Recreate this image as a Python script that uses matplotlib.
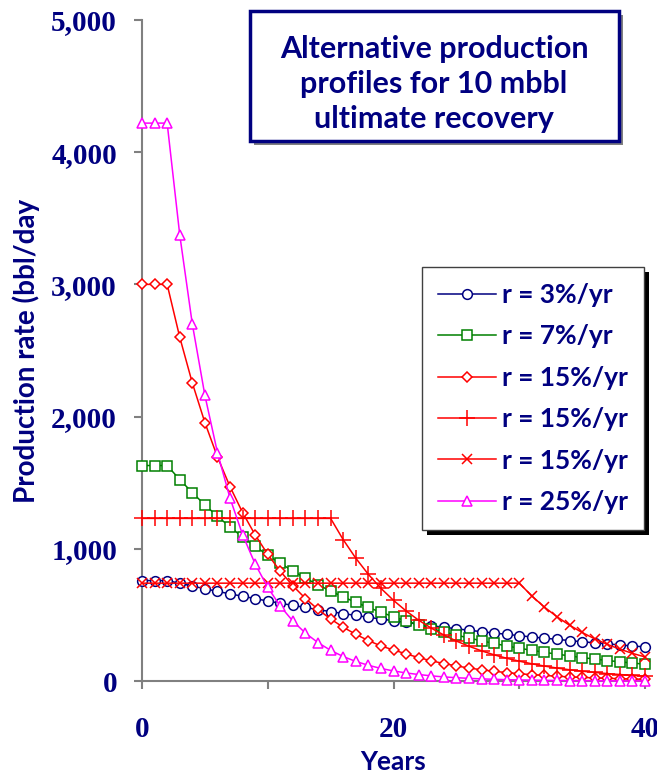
import matplotlib
matplotlib.use("Agg")
import matplotlib.pyplot as plt
from matplotlib.patches import Rectangle
from matplotlib.ticker import FuncFormatter, FixedLocator
import matplotlib.transforms as mtransforms

years = list(range(41))

r3 = [760, 760, 760, 739, 718, 698, 678, 659, 641, 623, 605, 588, 572, 556, 540, 525,
      510, 496, 482, 469, 456, 443, 430, 418, 407, 395, 384, 373, 363, 353, 343, 333,
      324, 315, 306, 297, 289, 281, 273, 265, 258]
r7 = [1630, 1630, 1630, 1524, 1425, 1332, 1246, 1165, 1089, 1018, 952, 890, 832, 778,
      728, 680, 636, 595, 556, 520, 486, 455, 425, 397, 372, 347, 325, 304, 284, 265,
      248, 232, 217, 203, 190, 177, 166, 155, 145, 136, 127]
r15_early = [3000, 3000, 3000, 2601, 2255, 1955, 1695, 1470, 1274, 1105, 958, 830, 720,
             624, 541, 469, 407, 353, 306, 265, 235, 205, 177, 153, 132, 114, 98, 85,
             73, 64, 55, 48, 42, 36, 31, 27, 24, 20, 18, 15, 13]
r15_mid = [1230, 1230, 1230, 1230, 1230, 1230, 1230, 1230, 1230, 1230, 1230, 1230, 1230,
           1230, 1230, 1230, 1069, 929, 807, 701, 610, 530, 460, 400, 348, 302, 263,
           228, 198, 172, 150, 130, 113, 98, 85, 74, 65, 56, 49, 42, 37]
r15_late = [740] * 31 + [643, 559, 486, 422, 367, 319, 277, 241, 209, 182]
r25 = [4220, 4220, 4220, 3376, 2701, 2161, 1728, 1383, 1106, 885, 708, 566, 453, 362,
       290, 232, 185, 148, 119, 95, 76, 61, 49, 39, 31, 25, 20, 16, 13, 10, 8, 7, 5, 4,
       3, 3, 2, 2, 1, 1, 1]

labels = ["r = 3%/yr", "r = 7%/yr", "r = 15%/yr", "r = 15%/yr", "r = 15%/yr", "r = 25%/yr"]

navy = "#000080"
sans = ["Lato", "DejaVu Sans"]
serif = ["Liberation Serif", "DejaVu Serif"]

fig = plt.figure(figsize=(6.57, 7.77), dpi=100)
ax = fig.add_axes([142 / 657, 1 - 681 / 777, 503 / 657, 661 / 777])

series = [
    (r3, navy, "o", 7),
    (r7, "#008000", "s", 7.5),
    (r15_early, "#FF0000", "D", 5.5),
    (r15_mid, "#FF0000", "+", 12),
    (r15_late, "#FF0000", "x", 7),
    (r25, "#FF00FF", "^", 7),
]
for (vals, col, mk, ms), lab in zip(series, labels):
    ax.plot(years, vals, color=col, lw=1.1, marker=mk, ms=ms, mfc="white", mec=col,
            mew=1.1, label=lab, clip_on=False, zorder=3)

ax.set_xlim(0, 40)
ax.set_ylim(0, 5000)
ax.set_yticks(range(0, 5001, 1000))
ax.yaxis.set_major_formatter(FuncFormatter(lambda v, p: f"{int(v):,}"))
ax.xaxis.set_major_locator(FixedLocator([0, 10, 20, 30, 40]))
ax.xaxis.set_major_formatter(FuncFormatter(lambda v, p: f"{int(v)}" if v % 20 == 0 else ""))

for s in ["top", "right"]:
    ax.spines[s].set_visible(False)
for s in ["left", "bottom"]:
    ax.spines[s].set_color("#808080")
    ax.spines[s].set_linewidth(1.5)
ax.tick_params(axis="both", colors="#808080", width=1.5, length=6, direction="out")
ax.tick_params(axis="y", labelcolor=navy, pad=12)
ax.tick_params(axis="x", labelcolor=navy, pad=19)
for t in ax.get_xticklabels() + ax.get_yticklabels():
    t.set_fontfamily(serif)
    t.set_fontweight("bold")
    t.set_fontsize(21)

fig.text(26 / 657, 1 - 351 / 777, "Production rate (bbl/day", rotation=90, ha="center",
         va="center", color=navy, fontsize=20, fontweight="bold", family=sans)
fig.text(393 / 657, 1 - 762 / 777, "Years", ha="center", va="center", color=navy,
         fontsize=19, fontweight="bold", family=sans)

# title box with shadow
W, H = 657, 777
fig.patches.append(Rectangle(((250 + 4) / W, 1 - (141 + 4) / H), 369 / W, 130 / H,
                             transform=fig.transFigure, facecolor="#808080",
                             edgecolor="none", zorder=5))
fig.patches.append(Rectangle((250 / W, 1 - 141 / H), 369 / W, 130 / H,
                             transform=fig.transFigure, facecolor="white",
                             edgecolor=navy, lw=2.5, zorder=6))
fig.text(434 / W, 1 - 84 / H, "Alternative production\nprofiles for 10 mbbl\nultimate recovery",
         ha="center", va="center", color=navy, fontsize=22, fontweight="bold",
         family=sans, linespacing=1.3, zorder=7)

leg = ax.legend(loc="upper right", bbox_to_anchor=(0.998, 0.626), borderaxespad=0,
                frameon=True, fancybox=False, edgecolor="#404040", framealpha=1,
                prop={"family": sans, "weight": "bold", "size": 19},
                handlelength=2.2, handletextpad=0.25, labelspacing=0.66,
                borderpad=0.6)
leg.get_frame().set_linewidth(1.0)
for t in leg.get_texts():
    t.set_color(navy)
leg.set_zorder(10)

fig.canvas.draw()
bb = leg.get_window_extent()
ax.add_patch(Rectangle((bb.x0 + 5, bb.y0 - 5), bb.width, bb.height,
                       transform=mtransforms.IdentityTransform(), facecolor="black",
                       edgecolor="none", zorder=9, clip_on=False))

fig.savefig("out.png", dpi=100, facecolor="white")
